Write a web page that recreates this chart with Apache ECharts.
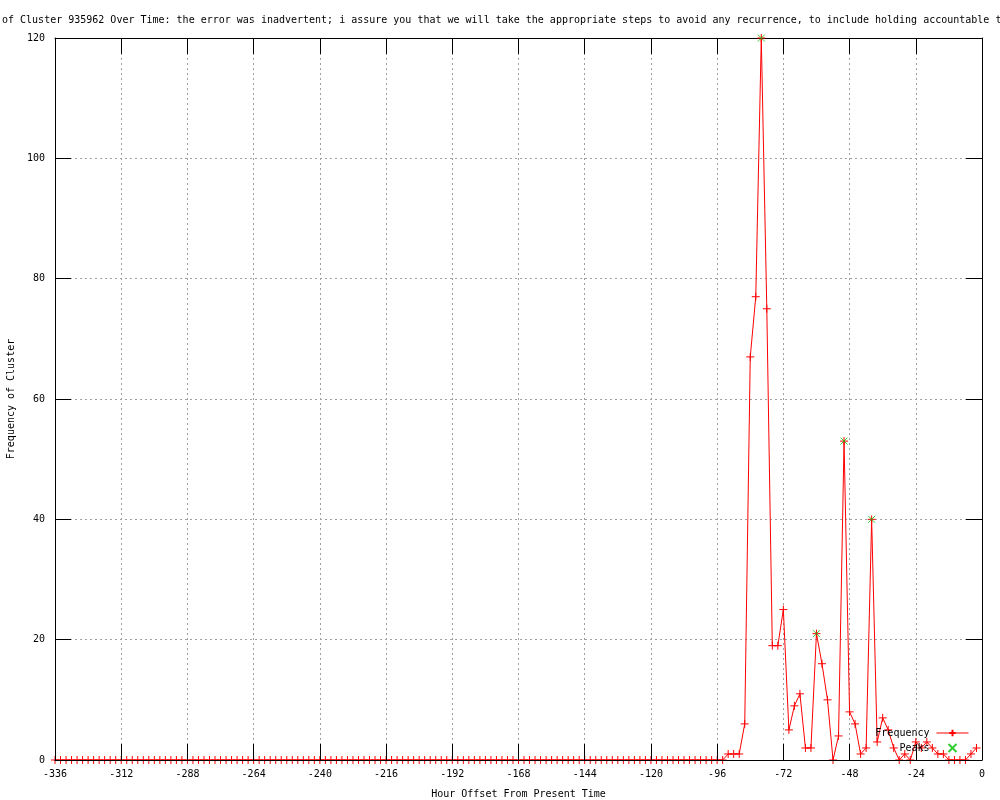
<!DOCTYPE html>
<html>
<head>
<meta charset="utf-8">
<script src="https://cdn.jsdelivr.net/npm/echarts@6/dist/echarts.min.js"></script>
<style>html,body{margin:0;padding:0;background:#fff}#chart{width:1000px;height:800px}</style>
</head>
<body>
<div id="chart"></div>
<script>
// Data
const titleText = "of Cluster 935962 Over Time: the error was inadvertent; i assure you that we will take the appropriate steps to avoid any recurrence, to include holding accountable th";
const xAxisName = "Hour Offset From Present Time";
const yAxisName = "Frequency of Cluster";
const startHour = -336;   // first sample
const stepHours = 2;      // sampling step
const frequency = [
  0,0,0,0,0,0,0,0,0,0,0,0,0,0,0,0,0,0,0,0,
  0,0,0,0,0,0,0,0,0,0,0,0,0,0,0,0,0,0,0,0,
  0,0,0,0,0,0,0,0,0,0,0,0,0,0,0,0,0,0,0,0,
  0,0,0,0,0,0,0,0,0,0,0,0,0,0,0,0,0,0,0,0,
  0,0,0,0,0,0,0,0,0,0,0,0,0,0,0,0,0,0,0,0,
  0,0,0,0,0,0,0,0,0,0,0,0,0,0,0,0,0,0,0,0,
  0,0,
  1,1,1,6,67,77,120,75,19,19,
  25,5,9,11,2,2,21,16,10,0,
  4,53,8,6,1,2,40,3,7,5,
  2,0,1,0,3,2,3,2,1,1,
  0,0,0,0,1,2
];
const peakHours = [-80, -60, -50, -40];
const peakValues = [120, 21, 53, 40];
const xTicks = {min: -336, max: 0, interval: 24};
const yTicks = {min: 0, max: 120, interval: 20};

const freqData = frequency.map((v, i) => [startHour + i * stepHours, v]);
const peakData = peakHours.map((h, i) => [h, peakValues[i]]);

const FONT = "DejaVu Sans Mono";
const txt = {fontFamily: FONT, fontSize: 10, color: '#000'};
const plusSym = 'path://M0,4L8,4M4,0L4,8';
const xSym = 'path://M0,0L8,8M8,0L0,8';
const RED = '#ff0000', GREEN = '#00c000';

const chart = echarts.init(document.getElementById('chart'), null, {renderer: 'canvas'});
const baseX = {type: 'value', min: xTicks.min, max: xTicks.max, interval: xTicks.interval};
const baseY = {type: 'value', min: yTicks.min, max: yTicks.max, interval: yTicks.interval};
const axLine = {show: true, onZero: false, lineStyle: {color: '#000', width: 1}};
const tick = {show: true, inside: true, length: 16, lineStyle: {color: '#000', width: 1}};
const grid = {show: true, lineStyle: {color: '#a0a0a0', width: 1, type: [2, 3]}};

chart.setOption({
  animation: false,
  backgroundColor: '#fff',
  title: {text: titleText, left: 2, top: 15, padding: 0,
    textStyle: {fontFamily: FONT, fontSize: 10, fontWeight: 'normal', color: '#000'}},
  grid: {left: 55, right: 18, top: 38, bottom: 40, containLabel: false, outerBoundsMode: 'none'},
  legend: {
    right: 31, top: 728, orient: 'vertical', align: 'right',
    itemWidth: 32, itemHeight: 8, itemGap: 5, padding: 0,
    textStyle: Object.assign({padding: [0, 2, 0, 0]}, txt),
    lineStyle: {width: 1},
    data: ['Frequency', 'Peaks']
  },
  xAxis: [
    Object.assign({}, baseX, {position: 'bottom', z: 3, axisLine: axLine, axisTick: tick,
      axisLabel: Object.assign({margin: 9}, txt), splitLine: {show: false},
      name: xAxisName, nameLocation: 'middle', nameGap: 29, nameTextStyle: txt}),
    Object.assign({}, baseX, {position: 'top', axisLine: axLine, axisTick: tick,
      axisLabel: {show: false}, splitLine: grid})
  ],
  yAxis: [
    Object.assign({}, baseY, {position: 'left', axisLine: axLine, axisTick: tick,
      axisLabel: Object.assign({margin: 10}, txt), splitLine: grid,
      name: yAxisName, nameLocation: 'middle', nameGap: 34, nameTextStyle: txt}),
    Object.assign({}, baseY, {position: 'right', axisLine: axLine, axisTick: tick,
      axisLabel: {show: false}, splitLine: {show: false}})
  ],
  series: [
    {
      name: 'Frequency', type: 'line', xAxisIndex: 0, yAxisIndex: 0,
      data: freqData, symbol: plusSym, symbolSize: 8, showAllSymbol: true,
      lineStyle: {color: RED, width: 1},
      itemStyle: {color: RED, borderColor: RED, borderWidth: 1},
      z: 2
    },
    {
      name: 'Peaks', type: 'scatter', xAxisIndex: 0, yAxisIndex: 0,
      data: peakData, symbol: xSym, symbolSize: 7,
      itemStyle: {color: GREEN, borderColor: GREEN, borderWidth: 1},
      z: 4
    }
  ]
});
</script>
</body>
</html>
